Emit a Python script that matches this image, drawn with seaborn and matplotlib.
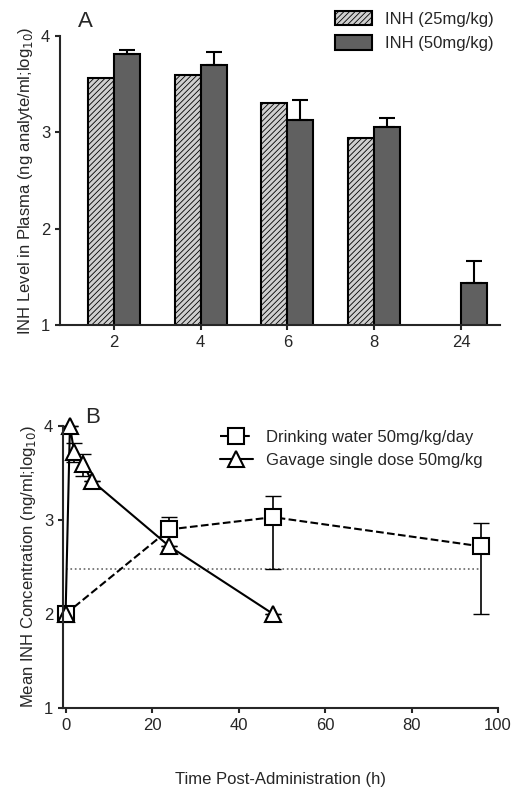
import matplotlib
matplotlib.use("Agg")
import matplotlib.pyplot as plt
import seaborn as sns
import numpy as np
import pandas as pd

sns.set_style("ticks")
plt.rcParams['font.family'] = ['Liberation Sans', 'DejaVu Sans']
plt.rcParams['hatch.color'] = '#555555'
plt.rcParams['hatch.linewidth'] = 0.6

# Panel A data
times_a = ["2", "4", "6", "8", "24"]
inh25 = [3.56, 3.60, 3.30, 2.94, np.nan]
inh50 = [3.81, 3.70, 3.13, 3.06, 1.44]
inh50_err = [0.04, 0.13, 0.21, 0.09, 0.22]

# Panel B data
dw_t = [0, 24, 48, 96]
dw_y = [2.0, 2.90, 3.03, 2.72]
dw_lo = [0.0, 0.0, 0.55, 0.72]
dw_hi = [0.0, 0.13, 0.23, 0.25]
gv_t = [0, 1, 2, 4, 6, 24, 48]
gv_y = [2.0, 4.0, 3.72, 3.60, 3.42, 2.72, 2.0]
gv_lo = [0, 0, 0.10, 0.13, 0, 0, 0]
gv_hi = [0, 0, 0.10, 0.10, 0, 0, 0]
lloq = 2.48

fig = plt.figure(figsize=(5.17, 8.0), dpi=100)
axA = fig.add_axes([60/517, 1-325/800, 440/517, 289/800])
axB = fig.add_axes([63/517, 1-708/800, 435/517, 282/800])

dfA = pd.DataFrame({"time": times_a * 2,
                    "val": inh25 + inh50,
                    "dose": ["INH (25mg/kg)"] * 5 + ["INH (50mg/kg)"] * 5})
sns.barplot(data=dfA, x="time", y="val", hue="dose", ax=axA, width=0.6,
            palette=["#cfcfcf", "#606060"], edgecolor="black", linewidth=1.5,
            errorbar=None)
for bar in axA.containers[0]:
    bar.set_hatch("//////")
for bar, e in zip(axA.containers[1], inh50_err):
    x = bar.get_x() + bar.get_width() / 2
    h = bar.get_height()
    axA.errorbar([x], [h], yerr=[[0], [e]], color="black", capsize=6, lw=1.5, capthick=1.5)
axA.set_ylim(1, 4)
axA.set_yticks([1, 2, 3, 4])
axA.set_xlim(-0.62, 4.45)
axA.set_xlabel("")
axA.set_ylabel("INH Level in Plasma (ng analyte/ml;log$_{10}$)", fontsize=12)
axA.tick_params(labelsize=12, width=1.5)
sns.despine(ax=axA)
for s in ["left", "bottom"]:
    axA.spines[s].set_linewidth(1.5)
leg = axA.legend(loc="upper right", bbox_to_anchor=(1.02, 1.14), frameon=False, fontsize=12,
                 handlelength=2.2, handleheight=1.0)
for p in leg.get_patches():
    p.set_edgecolor("black")
leg.get_patches()[0].set_hatch("//////")
axA.text(0.04, 1.03, "A", transform=axA.transAxes, fontsize=16)

# Panel B
sns.lineplot(x=dw_t, y=dw_y, ax=axB, color="black", linestyle="--", marker="s",
             markersize=11, markerfacecolor="white", markeredgecolor="black",
             markeredgewidth=1.5, label="Drinking water 50mg/kg/day")
sns.lineplot(x=gv_t, y=gv_y, ax=axB, color="black", linestyle="-", marker="^",
             markersize=12, markerfacecolor="white", markeredgecolor="black",
             markeredgewidth=1.5, label="Gavage single dose 50mg/kg")
axB.errorbar(dw_t, dw_y, yerr=[dw_lo, dw_hi], fmt="none", ecolor="black", capsize=6, lw=1.2, zorder=1)
axB.errorbar(gv_t, gv_y, yerr=[gv_lo, gv_hi], fmt="none", ecolor="black", capsize=6, lw=1.2, zorder=1)
axB.hlines(lloq, 0, 96, colors="#666666", linestyles=":", lw=1.2, zorder=0)
axB.set_ylim(1, 4)
axB.set_yticks([1, 2, 3, 4])
axB.set_xlim(-0.6, 100)
axB.set_xticks([0, 20, 40, 60, 80, 100])
axB.set_xlabel("Time Post-Administration (h)", fontsize=12, labelpad=28)
axB.set_ylabel("Mean INH Concentration (ng/ml;log$_{10}$)", fontsize=12)
axB.tick_params(labelsize=12, width=1.5)
sns.despine(ax=axB)
for s in ["left", "bottom"]:
    axB.spines[s].set_linewidth(1.5)
for l in axB.get_lines():
    l.set_clip_on(False)
axB.legend(loc="upper right", bbox_to_anchor=(1.0, 1.04), frameon=False, fontsize=12)
axB.text(0.05, 1.01, "B", transform=axB.transAxes, fontsize=16)

fig.savefig("out.png", dpi=100)
